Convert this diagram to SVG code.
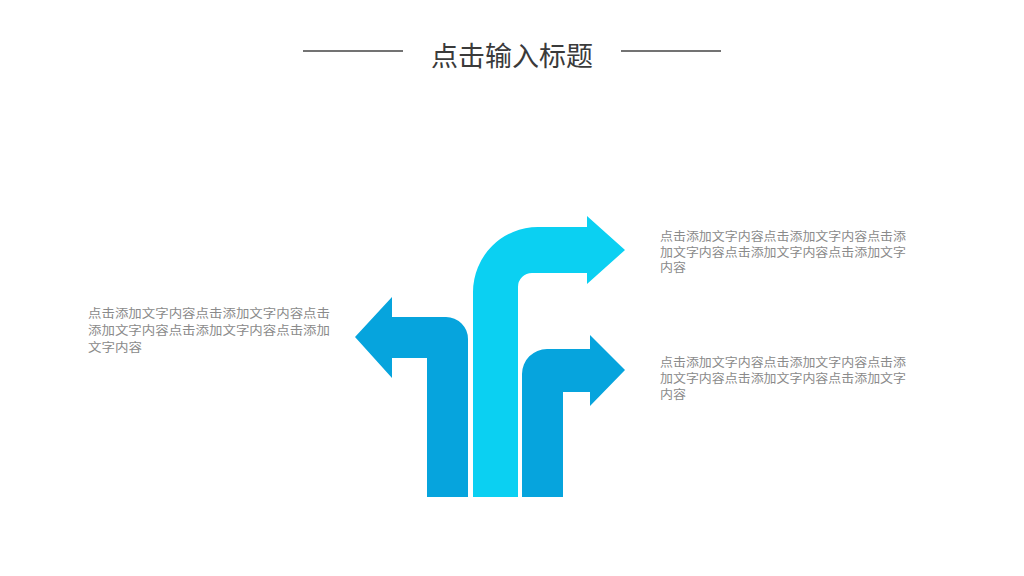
<svg xmlns="http://www.w3.org/2000/svg" width="1024" height="576" viewBox="0 0 1024 576">
<style>
.title{font-family:"Noto Sans CJK SC","Liberation Sans",sans-serif;font-size:27px;fill:#3a3a3a}
.body{font-family:"Noto Sans CJK SC","Liberation Sans",sans-serif;font-size:12px;fill:#8a8a8a}
.rule{stroke:#444;stroke-width:1.3}
.dark{fill:#06a4dd}
.light{fill:#0bd0f2}
</style>
<rect width="1024" height="576" fill="#ffffff"/>
<g id="title">
<line class="rule" x1="303" y1="51" x2="403" y2="51"/>
<line class="rule" x1="621" y1="51" x2="721" y2="51"/>
<text class="title" x="512" y="66" text-anchor="middle">点击输入标题</text>
</g>
<g id="arrow-left">
<path class="dark" d="M355,337 L392,297 L392,317 L446,317 A22,22 0 0 1 468,339 L468,497 L427,497 L427,358 L392,358 L392,378 Z"/>
</g>
<g id="arrow-middle">
<path class="light" d="M473,497 L473,292 A65,65 0 0 1 538,227 L587,227 L587,216 L625,250 L587,284 L587,273 L532,273 A14,14 0 0 0 518,287 L518,497 Z"/>
</g>
<g id="arrow-right">
<path class="dark" d="M522,497 L522,374 A25,25 0 0 1 547,349 L590,349 L590,335 L625,370 L590,406 L590,392 L563,392 L563,497 Z"/>
</g>
<g id="text-left">
<text class="body" x="88" y="318" textLength="242" lengthAdjust="spacingAndGlyphs">点击添加文字内容点击添加文字内容点击</text>
<text class="body" x="88" y="335" textLength="242" lengthAdjust="spacingAndGlyphs">添加文字内容点击添加文字内容点击添加</text>
<text class="body" x="88" y="352" textLength="54" lengthAdjust="spacingAndGlyphs">文字内容</text>
</g>
<g id="text-right-top">
<text class="body" x="660" y="241" textLength="246" lengthAdjust="spacingAndGlyphs">点击添加文字内容点击添加文字内容点击添</text>
<text class="body" x="660" y="257" textLength="246" lengthAdjust="spacingAndGlyphs">加文字内容点击添加文字内容点击添加文字</text>
<text class="body" x="660" y="272" textLength="26" lengthAdjust="spacingAndGlyphs">内容</text>
</g>
<g id="text-right-bottom">
<text class="body" x="660" y="367" textLength="246" lengthAdjust="spacingAndGlyphs">点击添加文字内容点击添加文字内容点击添</text>
<text class="body" x="660" y="383" textLength="246" lengthAdjust="spacingAndGlyphs">加文字内容点击添加文字内容点击添加文字</text>
<text class="body" x="660" y="399" textLength="26" lengthAdjust="spacingAndGlyphs">内容</text>
</g>
<g id="connectors"></g>
</svg>
